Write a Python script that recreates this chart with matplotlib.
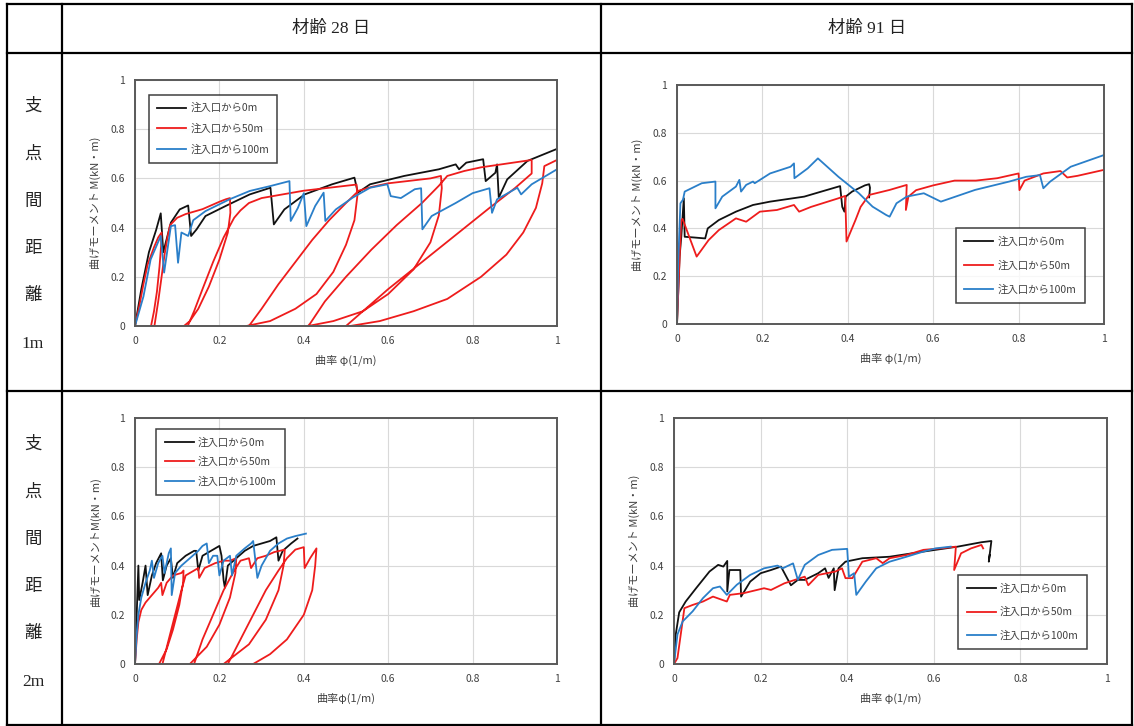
import matplotlib
matplotlib.use("Agg")
import matplotlib.pyplot as plt
from matplotlib.lines import Line2D

plt.rcParams['font.family'] = ['Noto Sans CJK JP', 'DejaVu Sans']

# ---- data (curvature phi [1/m], moment M [kN*m]) ----
# age 28 days, support span 1m
d28_1m_0m_x = [0, 0.015, 0.033, 0.05, 0.061, 0.067, 0.085, 0.106, 0.126, 0.133, 0.146, 0.167, 0.215,
               0.272, 0.321, 0.329, 0.354, 0.402, 0.467, 0.52, 0.528, 0.557, 0.638, 0.72, 0.76, 0.768,
               0.785, 0.825, 0.831, 0.854, 0.858, 0.862, 0.882, 0.93, 1.0]
d28_1m_0m_y = [0, 0.15, 0.3, 0.39, 0.458, 0.3, 0.42, 0.474, 0.49, 0.366, 0.393, 0.447, 0.488,
               0.535, 0.562, 0.413, 0.474, 0.535, 0.576, 0.603, 0.542, 0.576, 0.61, 0.637, 0.657, 0.637,
               0.664, 0.678, 0.589, 0.623, 0.657, 0.522, 0.596, 0.671, 0.72]
d28_1m_50m_x = [0, 0.01, 0.02, 0.03, 0.045, 0.055, 0.063,
                0.062, 0.058, 0.052, 0.045, 0.038,
                0.046, 0.055, 0.063, 0.07, 0.077, 0.083,
                0.1, 0.12, 0.14, 0.16, 0.18, 0.2, 0.215, 0.225,
                0.226, 0.22, 0.2, 0.175, 0.15, 0.13, 0.116,
                0.125, 0.14, 0.16, 0.185, 0.21, 0.235, 0.25,
                0.27, 0.3, 0.35, 0.4, 0.45, 0.5, 0.525,
                0.527, 0.52, 0.5, 0.47, 0.43, 0.38, 0.32, 0.264,
                0.27, 0.3, 0.34, 0.38, 0.42, 0.46, 0.5, 0.53,
                0.56, 0.6, 0.65, 0.7, 0.725,
                0.727, 0.72, 0.7, 0.66, 0.6, 0.54, 0.47, 0.41,
                0.415, 0.45, 0.5, 0.56, 0.62, 0.68, 0.72, 0.74,
                0.78, 0.82, 0.86, 0.9, 0.94,
                0.94, 0.9, 0.84, 0.76, 0.68, 0.6, 0.54, 0.5,
                0.51, 0.58, 0.66, 0.74, 0.82, 0.88, 0.92, 0.95, 0.965, 0.97,
                1.0]
d28_1m_50m_y = [0, 0.08, 0.17, 0.25, 0.32, 0.36, 0.38,
                0.33, 0.24, 0.14, 0.06, 0.0,
                0.0, 0.1, 0.2, 0.29, 0.36, 0.41,
                0.44, 0.455, 0.465, 0.475, 0.49, 0.505, 0.515, 0.52,
                0.46, 0.38, 0.27, 0.16, 0.07, 0.02, 0.0,
                0.0, 0.06, 0.15, 0.26, 0.36, 0.44, 0.47,
                0.5, 0.52, 0.535, 0.55, 0.56, 0.57, 0.575,
                0.53, 0.43, 0.33, 0.22, 0.13, 0.07, 0.02, 0.0,
                0.0, 0.07, 0.17, 0.26, 0.35, 0.43, 0.5, 0.55,
                0.565, 0.58, 0.59, 0.6, 0.61,
                0.56, 0.45, 0.34, 0.23, 0.13, 0.06, 0.02, 0.0,
                0.01, 0.1, 0.2, 0.31, 0.41, 0.5, 0.57, 0.61,
                0.63, 0.645, 0.655, 0.665, 0.675,
                0.62, 0.56, 0.48, 0.37, 0.26, 0.15, 0.06, 0.0,
                0.0, 0.02, 0.06, 0.11, 0.2, 0.29, 0.38, 0.48, 0.58, 0.65,
                0.675]
d28_1m_100m_x = [0, 0.02, 0.037, 0.061, 0.069, 0.085, 0.095, 0.102, 0.11, 0.126, 0.138, 0.167, 0.224,
                 0.272, 0.321, 0.366, 0.369, 0.386, 0.4, 0.406, 0.427, 0.447, 0.451, 0.476, 0.516,
                 0.557, 0.598, 0.606, 0.63, 0.663, 0.678, 0.681, 0.703, 0.76, 0.8, 0.84, 0.846,
                 0.858, 0.906, 0.915, 0.94, 1.0]
d28_1m_100m_y = [0, 0.12, 0.27, 0.366, 0.217, 0.406, 0.41, 0.257, 0.38, 0.366, 0.43, 0.467, 0.515,
                 0.549, 0.569, 0.589, 0.427, 0.48, 0.54, 0.406, 0.488, 0.542, 0.427, 0.474, 0.522,
                 0.562, 0.576, 0.528, 0.52, 0.556, 0.56, 0.393, 0.447, 0.5, 0.54, 0.56, 0.46,
                 0.515, 0.562, 0.535, 0.576, 0.637]

# age 91 days, support span 1m
d91_1m_0m_x = [0, 0.006, 0.01, 0.016, 0.018, 0.04, 0.066, 0.072, 0.098, 0.138, 0.178, 0.218, 0.298,
               0.338, 0.382, 0.387, 0.392, 0.395, 0.41, 0.426, 0.44, 0.45, 0.452, 0.45]
d91_1m_0m_y = [0, 0.28, 0.365, 0.526, 0.365, 0.362, 0.358, 0.4, 0.435, 0.47, 0.498, 0.512, 0.533,
               0.554, 0.577, 0.49, 0.47, 0.533, 0.554, 0.568, 0.58, 0.585, 0.57, 0.53]
d91_1m_50m_x = [0, 0.006, 0.01, 0.013, 0.046, 0.074, 0.098, 0.138, 0.162, 0.194, 0.234, 0.274, 0.286,
                0.314, 0.378, 0.394, 0.397, 0.418, 0.43, 0.45, 0.498, 0.538, 0.536, 0.542, 0.56,
                0.6, 0.65, 0.7, 0.75, 0.8, 0.802, 0.814, 0.858, 0.898, 0.914, 0.938, 1.0]
d91_1m_50m_y = [0, 0.268, 0.435, 0.44, 0.282, 0.351, 0.393, 0.442, 0.428, 0.47, 0.477, 0.498, 0.47,
                0.49, 0.526, 0.536, 0.345, 0.435, 0.49, 0.54, 0.561, 0.582, 0.477, 0.533, 0.56,
                0.58, 0.6, 0.6, 0.61, 0.63, 0.56, 0.6, 0.63, 0.64, 0.613, 0.62, 0.645]
d91_1m_100m_x = [0, 0.003, 0.008, 0.014, 0.018, 0.058, 0.09, 0.09, 0.106, 0.138, 0.146, 0.15, 0.162,
                 0.178, 0.182, 0.218, 0.266, 0.274, 0.275, 0.306, 0.33, 0.378, 0.426, 0.458, 0.49,
                 0.498, 0.514, 0.538, 0.578, 0.618, 0.698, 0.778, 0.818, 0.85, 0.858, 0.874, 0.922, 1.0]
d91_1m_100m_y = [0, 0.268, 0.505, 0.52, 0.554, 0.589, 0.596, 0.484, 0.533, 0.575, 0.603, 0.554, 0.582,
                 0.596, 0.589, 0.63, 0.658, 0.672, 0.61, 0.651, 0.693, 0.616, 0.547, 0.491, 0.456,
                 0.449, 0.505, 0.533, 0.547, 0.512, 0.561, 0.596, 0.616, 0.623, 0.568, 0.596, 0.658, 0.707]

# age 28 days, support span 2m
d28_2m_0m_x = [0, 0.004, 0.008, 0.01, 0.018, 0.025, 0.03, 0.04, 0.05, 0.062, 0.066, 0.075, 0.085,
               0.09, 0.1, 0.12, 0.14, 0.145, 0.15, 0.16, 0.18, 0.2, 0.205, 0.21, 0.213, 0.22, 0.24,
               0.26, 0.28, 0.3, 0.32, 0.335, 0.34, 0.35, 0.37, 0.385]
d28_2m_0m_y = [0, 0.2, 0.4, 0.26, 0.33, 0.4, 0.28, 0.36, 0.41, 0.45, 0.34, 0.4, 0.43,
               0.35, 0.41, 0.44, 0.46, 0.46, 0.38, 0.44, 0.46, 0.48, 0.44, 0.34, 0.31, 0.4, 0.43,
               0.46, 0.48, 0.49, 0.5, 0.515, 0.42, 0.46, 0.49, 0.51]
d28_2m_50m_x = [0, 0.004, 0.008, 0.015, 0.025, 0.04, 0.055, 0.062, 0.065, 0.075, 0.09, 0.11, 0.115,
                0.114, 0.105, 0.09, 0.075, 0.057,
                0.065, 0.08, 0.095, 0.11, 0.12,
                0.14, 0.15, 0.152, 0.165, 0.19, 0.21, 0.225, 0.24,
                0.238, 0.225, 0.2, 0.17, 0.13,
                0.14, 0.16, 0.185, 0.21, 0.235, 0.25,
                0.27, 0.275, 0.29, 0.31, 0.33, 0.355,
                0.352, 0.34, 0.31, 0.27, 0.21,
                0.22, 0.25, 0.28, 0.31, 0.34, 0.36,
                0.38, 0.4, 0.402, 0.415, 0.43,
                0.427, 0.42, 0.4, 0.36, 0.32, 0.28]
d28_2m_50m_y = [0, 0.1, 0.17, 0.22, 0.25, 0.28, 0.31, 0.33, 0.28, 0.33, 0.36, 0.37, 0.38,
                0.33, 0.24, 0.14, 0.06, 0.0,
                0.0, 0.1, 0.2, 0.3, 0.36,
                0.38, 0.39, 0.35, 0.39, 0.41, 0.42, 0.42, 0.43,
                0.37, 0.27, 0.16, 0.07, 0.0,
                0.0, 0.1, 0.2, 0.3, 0.38, 0.42,
                0.43, 0.39, 0.43, 0.44, 0.455, 0.465,
                0.4, 0.3, 0.18, 0.08, 0.0,
                0.0, 0.1, 0.2, 0.3, 0.38, 0.43,
                0.465, 0.475, 0.39, 0.43, 0.47,
                0.4, 0.3, 0.2, 0.1, 0.04, 0.0]
d28_2m_100m_x = [0, 0.004, 0.008, 0.015, 0.025, 0.035, 0.04, 0.045, 0.055, 0.065, 0.07, 0.08, 0.085,
                 0.087, 0.095, 0.11, 0.13, 0.15, 0.16, 0.17, 0.175, 0.185, 0.195, 0.2, 0.21, 0.225,
                 0.23, 0.24, 0.26, 0.275, 0.28, 0.29, 0.3, 0.32, 0.34, 0.36, 0.38, 0.405]
d28_2m_100m_y = [0, 0.12, 0.2, 0.27, 0.33, 0.38, 0.42, 0.35, 0.41, 0.44, 0.37, 0.45, 0.47,
                 0.28, 0.37, 0.4, 0.43, 0.46, 0.48, 0.49, 0.41, 0.44, 0.44, 0.36, 0.42, 0.44,
                 0.36, 0.44, 0.47, 0.49, 0.5, 0.35, 0.4, 0.46, 0.49, 0.51, 0.52, 0.53]

# age 91 days, support span 2m
d91_2m_0m_x = [0, 0.004, 0.012, 0.027, 0.051, 0.082, 0.102, 0.114, 0.123, 0.123, 0.128, 0.153, 0.155,
               0.176, 0.2, 0.224, 0.247, 0.27, 0.286, 0.302, 0.333, 0.349, 0.357, 0.369, 0.371,
               0.38, 0.396, 0.435, 0.498, 0.576, 0.655, 0.71, 0.733, 0.727, 0.729]
d91_2m_0m_y = [0, 0.12, 0.21, 0.254, 0.308, 0.376, 0.403, 0.396, 0.419, 0.295, 0.382, 0.382, 0.274,
               0.335, 0.369, 0.382, 0.396, 0.32, 0.342, 0.342, 0.369, 0.389, 0.35, 0.389, 0.3,
               0.389, 0.416, 0.43, 0.436, 0.457, 0.477, 0.495, 0.5, 0.416, 0.443]
d91_2m_50m_x = [0, 0.008, 0.024, 0.043, 0.067, 0.09, 0.122, 0.129, 0.161, 0.208, 0.224, 0.255, 0.302,
                0.31, 0.333, 0.373, 0.388, 0.396, 0.412, 0.435, 0.467, 0.482, 0.498, 0.537, 0.576,
                0.616, 0.651, 0.647, 0.663, 0.686, 0.71, 0.714]
d91_2m_50m_y = [0, 0.024, 0.227, 0.24, 0.254, 0.274, 0.254, 0.281, 0.288, 0.308, 0.301, 0.328, 0.355,
                0.32, 0.362, 0.376, 0.389, 0.349, 0.349, 0.416, 0.43, 0.41, 0.43, 0.443, 0.464,
                0.47, 0.477, 0.382, 0.45, 0.47, 0.484, 0.47]
d91_2m_100m_x = [0, 0.008, 0.02, 0.043, 0.067, 0.09, 0.106, 0.122, 0.145, 0.176, 0.208, 0.239, 0.251,
                 0.275, 0.286, 0.302, 0.333, 0.365, 0.4, 0.404, 0.416, 0.421, 0.443, 0.467, 0.498,
                 0.537, 0.576, 0.604, 0.639]
d91_2m_100m_y = [0, 0.12, 0.173, 0.214, 0.268, 0.308, 0.315, 0.281, 0.322, 0.362, 0.389, 0.4, 0.389,
                 0.409, 0.342, 0.403, 0.443, 0.464, 0.468, 0.355, 0.369, 0.281, 0.335, 0.389, 0.416,
                 0.436, 0.457, 0.47, 0.477]

series_labels = ['注入口から0m', '注入口から50m', '注入口から100m']
series_colors = ['#111111', '#ee1c1c', '#2a7fc9']
col_headers = ['材齢 28 日', '材齢 91 日']
row_headers = ['支\n点\n間\n距\n離\n1m', '支\n点\n間\n距\n離\n2m']
ticks = [0, 0.2, 0.4, 0.6, 0.8, 1]

W, H = 1134, 726
fig = plt.figure(figsize=(W / 100, H / 100), dpi=100)


def px_axes(left, right, top, bottom):
    return fig.add_axes([left / W, 1 - bottom / H, (right - left) / W, (bottom - top) / H])


def style_axes(ax, ylab, xlab):
    ax.set_xlim(0, 1)
    ax.set_ylim(0, 1)
    ax.set_xticks(ticks)
    ax.set_yticks(ticks)
    ax.set_xticklabels([f"{t:g}" for t in ticks])
    ax.set_yticklabels([f"{t:g}" for t in ticks])
    ax.tick_params(length=0, labelsize=7.5, colors='#404040', pad=7)
    ax.grid(True, color='#d9d9d9', linewidth=0.8)
    ax.set_axisbelow(True)
    for sp in ax.spines.values():
        sp.set_color('#595959')
        sp.set_linewidth(1.4)
    ax.set_ylabel(ylab, fontsize=8, color='#404040', labelpad=7)
    ax.set_xlabel(xlab, fontsize=8, color='#404040', labelpad=6)


panels = [
    ((135, 557, 80, 326), [(d28_1m_0m_x, d28_1m_0m_y), (d28_1m_50m_x, d28_1m_50m_y), (d28_1m_100m_x, d28_1m_100m_y)],
     '曲げモーメント M(kN・m)', '曲率 φ(1/m)', dict(loc='upper left', bbox_to_anchor=(0.02, 0.962), labelspacing=1.0)),
    ((677, 1104, 85, 324), [(d91_1m_0m_x, d91_1m_0m_y), (d91_1m_50m_x, d91_1m_50m_y), (d91_1m_100m_x, d91_1m_100m_y)],
     '曲げモーメント M(kN・m)', '曲率 φ(1/m)', dict(loc='lower right', bbox_to_anchor=(0.967, 0.066), labelspacing=1.3)),
    ((135, 557, 418, 664), [(d28_2m_0m_x, d28_2m_0m_y), (d28_2m_50m_x, d28_2m_50m_y), (d28_2m_100m_x, d28_2m_100m_y)],
     '曲げモーメントM(kN・m)', '曲率φ(1/m)', dict(loc='upper left', bbox_to_anchor=(0.038, 0.977), labelspacing=0.9)),
    ((674, 1107, 418, 664), [(d91_2m_0m_x, d91_2m_0m_y), (d91_2m_50m_x, d91_2m_50m_y), (d91_2m_100m_x, d91_2m_100m_y)],
     '曲げモーメント M(kN・m)', '曲率 φ(1/m)', dict(loc='lower right', bbox_to_anchor=(0.966, 0.038), labelspacing=1.3)),
]

for box, series, ylab, xlab, leg_kw in panels:
    ax = px_axes(*box)
    for (xs, ys), lab, c in zip(series, series_labels, series_colors):
        ax.plot(xs, ys, color=c, linewidth=1.3, label=lab)
    style_axes(ax, ylab, xlab)
    leg = ax.legend(fontsize=7.5, frameon=True, fancybox=False, edgecolor='#111111',
                    handlelength=2.8, borderpad=0.8, handletextpad=0.4, **leg_kw)
    leg.get_frame().set_linewidth(1.1)
    for t in leg.get_texts():
        t.set_color('#404040')

# table grid
table_lines = [
    ((7, 1132), (4, 4)), ((7, 1132), (53, 53)), ((7, 1132), (391, 391)), ((7, 1132), (725, 725)),
    ((7, 7), (4, 725)), ((62, 62), (4, 725)), ((601, 601), (4, 725)), ((1132, 1132), (4, 725)),
]
for xs, ys in table_lines:
    fig.add_artist(Line2D([x / W for x in xs], [1 - y / H for y in ys], color='black', linewidth=1.6))

serif = ['Liberation Serif', 'Noto Sans CJK JP']
for cx, txt in zip([331, 867], col_headers):
    fig.text(cx / W, 1 - 29 / H, txt, ha='center', va='center', fontsize=12.5, family=serif, color='#222222')

for cy, txt in zip([225, 563], row_headers):
    fig.text(33 / W, 1 - cy / H, txt, ha='center', va='center', fontsize=12.5, family=serif,
             color='#222222', linespacing=3.6)

fig.savefig('out.png', dpi=100)
